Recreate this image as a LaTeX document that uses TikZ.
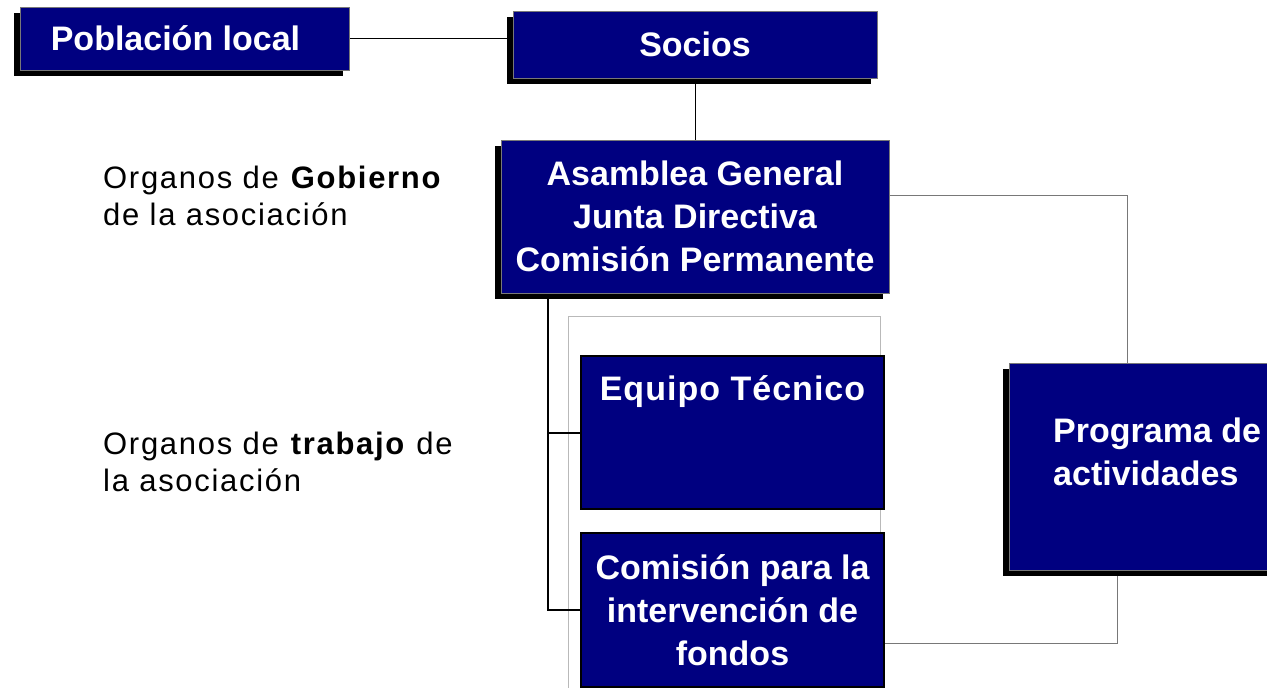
\documentclass[tikz,border=0pt]{standalone}
\usepackage{fontspec}
\setmainfont{Liberation Sans}
\usetikzlibrary{positioning,shadows,backgrounds}
\definecolor{navybox}{RGB}{0,0,128}
\definecolor{edgegrey}{RGB}{120,120,120}
\definecolor{framegrey}{RGB}{185,185,185}

\begin{document}
\begin{tikzpicture}[
  x=1pt, y=-1pt,
  boxfont/.style={font=\fontsize{34}{43}\selectfont\bfseries},
  box/.style={rectangle, fill=navybox, draw=edgegrey, line width=1pt, text=white,
    inner sep=0pt, outer sep=0pt, align=center, boxfont},
  shadowbox/.style={box, drop shadow={shadow xshift=-6pt, shadow yshift=-6pt, fill=black, opacity=1}},
  workbox/.style={box, draw=black, line width=1.5pt, minimum width=303pt},
  boxlabel/.style={boxfont, text=white, inner sep=0pt},
  note/.style={anchor=north west, inner sep=0pt, align=left,
    font=\fontsize{31}{37}\selectfont\addfontfeatures{LetterSpace=5.5}},
  link/.style={draw=black, line width=1pt},
  bracket/.style={draw=black, line width=2pt},
  greylink/.style={draw=edgegrey, line width=1pt}
]
  \useasboundingbox (0,0) rectangle (1267,688);
  \clip (0,0) rectangle (1267,688);

  \node[shadowbox, minimum width=329pt, minimum height=63pt] (poblacion) at (184.5,38.5)
    {Población local\hspace*{18pt}};
  \node[shadowbox, minimum width=364pt, minimum height=67pt] (socios) at (695,44.5) {Socios};
  \node[shadowbox, minimum width=388pt, minimum height=153pt] (asamblea) at (695,216.5)
    {Asamblea General\\Junta Directiva\\Comisión Permanente};

  \node[workbox, minimum height=153pt, anchor=north west,
    label={[boxlabel, anchor=north, yshift=-19pt]north:{\addfontfeatures{LetterSpace=3}Equipo Técnico}}]
    (equipo) at (581,356) {};
  \node[workbox, minimum height=154pt, below=24pt of equipo] (comision)
    {Comisión para la\\intervención de\\fondos};

  \node[shadowbox, minimum width=290pt, minimum height=207pt, anchor=north west,
    label={[boxlabel, align=left, anchor=north west, xshift=44pt, yshift=-55pt]north west:{Programa de\\actividades}}]
    (programa) at (1009,363) {};

  \node[note] (gobierno) at (103,166) {Organos de \textbf{Gobierno}\\de la asociación};
  \node[note] (trabajo) at (103,432) {Organos de \textbf{trabajo} de\\la asociación};

  \begin{scope}[on background layer]
    \draw[framegrey, line width=1pt] (568,688) |- (880,316) -- (880,533);
    \draw[link] (poblacion.east) -- (poblacion.east -| socios.west);
    \draw[link] (socios.south) -- (asamblea.north);
    \draw[greylink] ([yshift=21.5pt]asamblea.east) -| ([xshift=118pt]programa.north west);
    \draw[greylink] ([yshift=-33pt]comision.east) -| ([xshift=108pt]programa.south west);
    \draw[bracket] ([xshift=47pt]asamblea.south west) |- (equipo.west);
    \draw[bracket] ([xshift=47pt]asamblea.south west) |- (comision.west);
  \end{scope}

\end{tikzpicture}
\end{document}
